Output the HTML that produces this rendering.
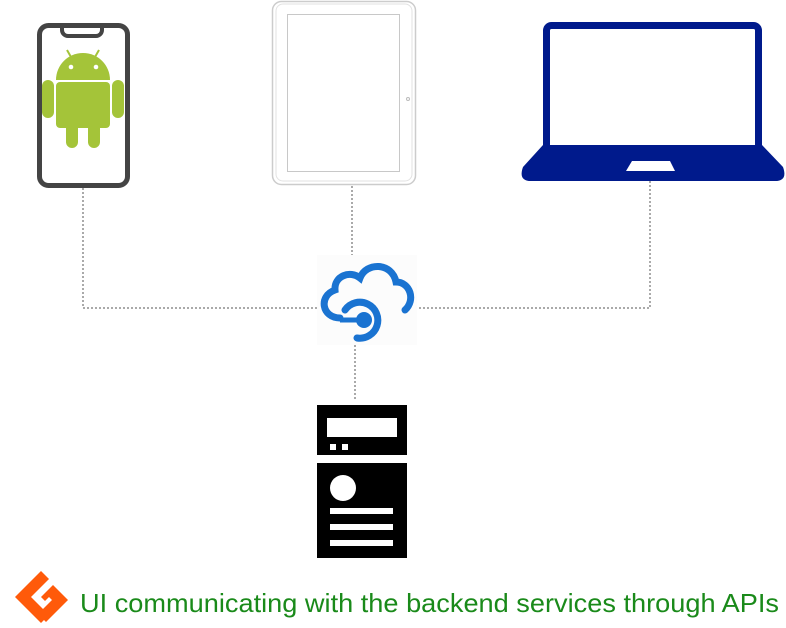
<!DOCTYPE html>
<html><head><style>
html,body{margin:0;padding:0;background:#fff;width:786px;height:628px;overflow:hidden}
</style></head><body>
<svg width="786" height="628" viewBox="0 0 786 628" xmlns="http://www.w3.org/2000/svg" style="position:absolute;left:0;top:0">
<g stroke="#555" stroke-width="1" stroke-dasharray="2,2" fill="none">
<line x1="83" y1="188" x2="83" y2="308"/>
<line x1="83" y1="308" x2="320" y2="308"/>
<line x1="415" y1="308" x2="650" y2="308"/>
<line x1="650" y1="181" x2="650" y2="308"/>
<line x1="352" y1="186" x2="352" y2="258"/>
<line x1="355" y1="345" x2="355" y2="400"/>
</g>
<rect x="39.5" y="25.5" width="88" height="160" rx="9" fill="#fff" stroke="#444" stroke-width="5"/>
<path d="M62 25 v5 a6 6 0 0 0 6 6 h28 a6 6 0 0 0 6 -6 v-5" fill="none" stroke="#444" stroke-width="4"/>
<g fill="#a4c439">
<path d="M56 80 a27 27 0 0 1 54 0 z"/>
<line x1="67" y1="50" x2="71" y2="57" stroke="#a4c439" stroke-width="2"/>
<line x1="99" y1="50" x2="95" y2="57" stroke="#a4c439" stroke-width="2"/>
<rect x="56" y="82" width="54" height="46" rx="4"/>
<rect x="42" y="80" width="12" height="38" rx="6"/>
<rect x="112" y="80" width="12" height="38" rx="6"/>
<rect x="66" y="118" width="12" height="30" rx="6"/>
<rect x="88" y="118" width="12" height="30" rx="6"/>
</g>
<circle cx="71" cy="67" r="2.3" fill="#fff"/><circle cx="96" cy="67" r="2.3" fill="#fff"/>
<rect x="272.5" y="1.5" width="143" height="183" rx="9" fill="#fff" stroke="#ccc" stroke-width="1.5"/>
<rect x="276" y="4" width="136" height="177" rx="7" fill="none" stroke="#e2e2e2" stroke-width="1"/>
<rect x="287.5" y="14.5" width="112" height="157" fill="#fff" stroke="#c8c8c8" stroke-width="1"/>
<circle cx="408" cy="99" r="1.5" fill="none" stroke="#bbb"/>
<rect x="546.5" y="25.5" width="212" height="128" rx="5" fill="#fff" stroke="#001a8c" stroke-width="7"/>
<path d="M543 145 H762 L783 167 Q788 181 775 181 H531 Q518 181 523 167 Z" fill="#001a8c"/>
<polygon points="632,161 670,161 675,171 626,171" fill="#fff"/>
<rect x="317" y="255" width="100" height="90" fill="#fcfcfc"/>
<g fill="none" stroke="#1a73d1" stroke-width="7" stroke-linecap="round">
<path d="M340 318 C322 318 318 296 335 290 C334 276 350 270 360 278 C366 262 392 262 396 282 C410 282 416 300 405 310"/>
<path d="M345 310 A18 18 0 1 1 357 338"/>
</g>
<circle cx="364" cy="320" r="8" fill="#1a73d1"/>
<line x1="340" y1="320" x2="362" y2="320" stroke="#1a73d1" stroke-width="5"/>
<rect x="317" y="405" width="90" height="50" fill="#000"/>
<rect x="327" y="418" width="70" height="19" fill="#fff"/>
<rect x="330" y="444" width="6" height="6" fill="#fff"/><rect x="342" y="444" width="6" height="6" fill="#fff"/>
<rect x="317" y="463" width="90" height="95" fill="#000"/>
<circle cx="343" cy="488" r="13" fill="#fff"/>
<rect x="330" y="508" width="63" height="6" fill="#fff"/>
<rect x="330" y="524" width="63" height="6" fill="#fff"/>
<rect x="330" y="540" width="63" height="6" fill="#fff"/>
<g fill="#ff5a0a">
<polygon points="15,597 41,571 49,579 31,597 49,615 41,623"/>
<polygon points="41,597 53,585 68,600 46,622 38,614 52,600 49,597 45,601"/>
</g>
<text x="80" y="612" font-family="Liberation Sans, sans-serif" font-size="26" fill="#1a8a1a" textLength="699" lengthAdjust="spacingAndGlyphs">UI communicating with the backend services through APIs</text>
</svg>
</body></html>
